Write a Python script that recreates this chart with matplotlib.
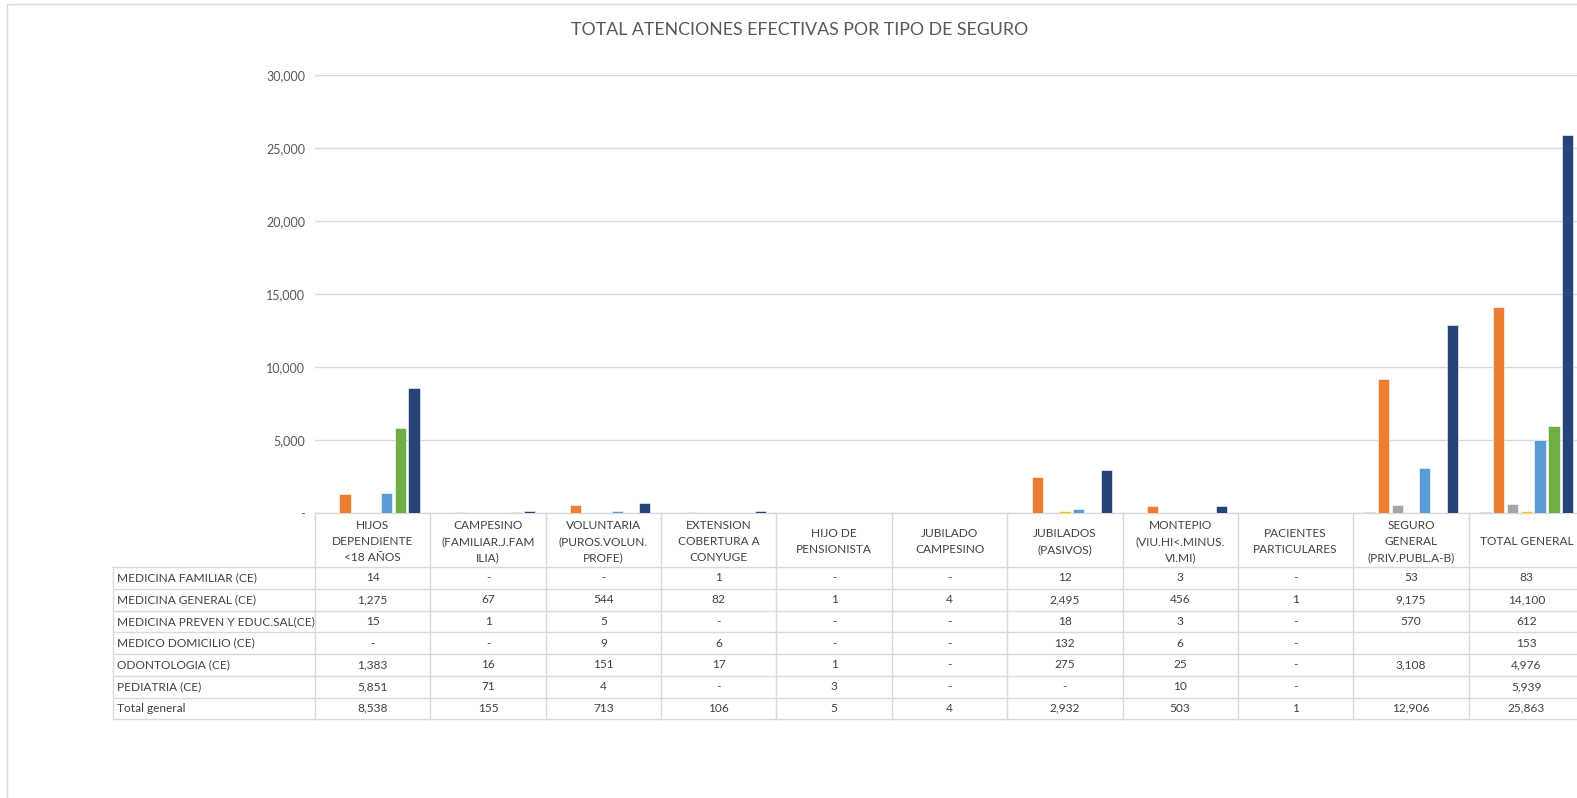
import matplotlib
matplotlib.use("Agg")
import matplotlib.pyplot as plt
import matplotlib.transforms as mtransforms
from matplotlib.patches import Rectangle
from matplotlib.lines import Line2D
import numpy as np

categories = [
    "HIJOS\nDEPENDIENTE\n<18 AÑOS",
    "CAMPESINO\n(FAMILIAR.J.FAM\nILIA)",
    "VOLUNTARIA\n(PUROS.VOLUN.\nPROFE)",
    "EXTENSION\nCOBERTURA A\nCONYUGE",
    "HIJO DE\nPENSIONISTA",
    "JUBILADO\nCAMPESINO",
    "JUBILADOS\n(PASIVOS)",
    "MONTEPIO\n(VIU.HI<.MINUS.\nVI.MI)",
    "PACIENTES\nPARTICULARES",
    "SEGURO\nGENERAL\n(PRIV.PUBL.A-B)",
    "TOTAL GENERAL",
]

series_names = [
    "MEDICINA FAMILIAR (CE)",
    "MEDICINA GENERAL (CE)",
    "MEDICINA PREVEN Y EDUC.SAL(CE)",
    "MEDICO DOMICILIO (CE)",
    "ODONTOLOGIA (CE)",
    "PEDIATRIA (CE)",
    "Total general",
]

medicina_familiar = [14, 0, 0, 1, 0, 0, 12, 3, 0, 53, 83]
medicina_general = [1275, 67, 544, 82, 1, 4, 2495, 456, 1, 9175, 14100]
medicina_preven = [15, 1, 5, 0, 0, 0, 18, 3, 0, 570, 612]
medico_domicilio = [0, 0, 9, 6, 0, 0, 132, 6, 0, None, 153]
odontologia = [1383, 16, 151, 17, 1, 0, 275, 25, 0, 3108, 4976]
pediatria = [5851, 71, 4, 0, 3, 0, 0, 10, 0, None, 5939]
total_general = [8538, 155, 713, 106, 5, 4, 2932, 503, 1, 12906, 25863]

series_values = [medicina_familiar, medicina_general, medicina_preven,
                 medico_domicilio, odontologia, pediatria, total_general]

colors = ["#4472C4", "#ED7D31", "#A5A5A5", "#FFC000", "#5B9BD5", "#70AD47", "#264478"]

yticks = [0, 5000, 10000, 15000, 20000, 25000, 30000]
ytick_labels = ["-", "5,000", "10,000", "15,000", "20,000", "25,000", "30,000"]

title = "TOTAL ATENCIONES EFECTIVAS POR TIPO DE SEGURO"

FONT = ["Lato", "DejaVu Sans"]
plt.rcParams['font.family'] = FONT

W, H = 1577, 798
fig = plt.figure(figsize=(W / 100, H / 100), dpi=100)
fig.patch.set_facecolor("white")

# overlay axes in pixel coordinates
tax = fig.add_axes([0, 0, 1, 1])
tax.set_xlim(0, W)
tax.set_ylim(H, 0)
tax.axis("off")
tax.add_patch(Rectangle((7, 4), 1700, 1000, fill=False, edgecolor="#D9D9D9", lw=1.0))

# plot axes
ax_left, ax_right, ax_top, ax_bottom = 315, 1584, 75, 513
ax = fig.add_axes([ax_left / W, (H - ax_bottom) / H, (ax_right - ax_left) / W,
                   (ax_bottom - ax_top) / H])
ax.set_facecolor("none")
n = len(categories)
x = np.arange(n)
slot = 0.1196
bw = 0.098
for i, (vals, col) in enumerate(zip(series_values, colors)):
    v = np.array([np.nan if a is None else a for a in vals], dtype=float)
    ax.bar(x + (i - 3) * slot, v, width=bw, color=col, edgecolor="white", linewidth=0.4, zorder=3)

ax.set_xlim(-0.5, n - 0.5)
ax.set_ylim(0, 30000)
ax.set_yticks(yticks)
ax.set_yticklabels(ytick_labels)
ax.tick_params(axis="y", length=0, pad=7, labelsize=9, labelcolor="#595959")
ax.set_xticks([])
for s in ["left", "right", "top"]:
    ax.spines[s].set_visible(False)
ax.spines["bottom"].set_color("#D9D9D9")
ax.spines["bottom"].set_linewidth(1.0)
ax.grid(axis="y", color="#D9D9D9", lw=1.0, zorder=0)
ax.set_axisbelow(True)

fig.text(800 / W, 1 - 30 / H, title, ha="center", va="center", fontsize=12.75, color="#595959")

# table
blend = mtransforms.blended_transform_factory(ax.transData, tax.transData)
lc = "#D9D9D9"
header_top, header_bot = 513, 567
row_h = 21.75
rows_y = [header_bot + k * row_h for k in range(len(series_names) + 1)]
table_bottom = rows_y[-1]
label_left = 113

# vertical lines at category boundaries
for b in np.arange(n + 1) - 0.5:
    tax.add_line(Line2D([b, b], [header_top, table_bottom], color=lc, lw=1.0, transform=blend))
# row label column left border
tax.add_line(Line2D([label_left, label_left], [header_bot, table_bottom], color=lc, lw=1.0))
# horizontal lines
for yy in rows_y:
    tax.add_line(Line2D([label_left, W + 50], [yy, yy], color=lc, lw=1.0))

txt_color = "#404040"
fs = 8.6
for j, cat in enumerate(categories):
    tax.text(j, (header_top + header_bot) / 2 + 1.5, cat, transform=blend, ha="center", va="center",
             fontsize=fs, color=txt_color, linespacing=1.6, clip_on=False)

for r, (name, vals) in enumerate(zip(series_names, series_values)):
    yc = (rows_y[r] + rows_y[r + 1]) / 2
    tax.text(117, yc, name, ha="left", va="center", fontsize=fs, color=txt_color)
    for j, v in enumerate(vals):
        if v is None:
            continue
        s = "-" if v == 0 else f"{v:,}"
        tax.text(j, yc, s, transform=blend, ha="center", va="center", fontsize=fs,
                 color=txt_color, clip_on=False)

fig.savefig("out.png", dpi=100)
